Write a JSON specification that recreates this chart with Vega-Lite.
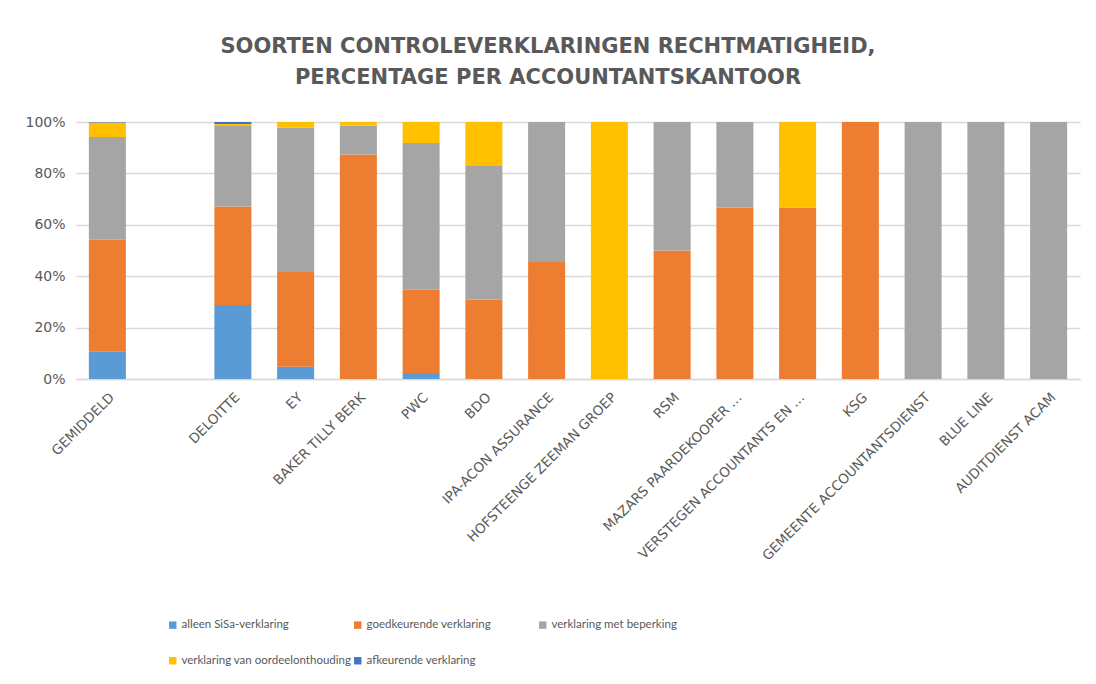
{
  "$schema": "https://vega.github.io/schema/vega-lite/v6.json",
  "width": 1004,
  "height": 257,
  "autosize": {"type": "none"},
  "padding": {"left": 76, "top": 122, "right": 16, "bottom": 305},
  "background": "white",
  "title": {
    "text": ["SOORTEN CONTROLEVERKLARINGEN  RECHTMATIGHEID,", "PERCENTAGE PER ACCOUNTANTSKANTOOR"],
    "font": "DejaVu Sans",
    "fontSize": 21,
    "fontWeight": "bold",
    "color": "#595959",
    "anchor": "middle",
    "dx": -30,
    "offset": 27,
    "lineHeight": 31
  },
  "config": {"view": {"stroke": null}},
  "data": {
    "values": [
      {"kantoor": "GEMIDDELD", "soort": "alleen SiSa-verklaring", "aandeel": 0.108},
      {"kantoor": "GEMIDDELD", "soort": "goedkeurende verklaring", "aandeel": 0.434},
      {"kantoor": "GEMIDDELD", "soort": "verklaring met beperking", "aandeel": 0.400},
      {"kantoor": "GEMIDDELD", "soort": "verklaring van oordeelonthouding", "aandeel": 0.056},
      {"kantoor": "GEMIDDELD", "soort": "afkeurende verklaring", "aandeel": 0.002},
      {"kantoor": "DELOITTE", "soort": "alleen SiSa-verklaring", "aandeel": 0.288},
      {"kantoor": "DELOITTE", "soort": "goedkeurende verklaring", "aandeel": 0.383},
      {"kantoor": "DELOITTE", "soort": "verklaring met beperking", "aandeel": 0.313},
      {"kantoor": "DELOITTE", "soort": "verklaring van oordeelonthouding", "aandeel": 0.008},
      {"kantoor": "DELOITTE", "soort": "afkeurende verklaring", "aandeel": 0.008},
      {"kantoor": "EY", "soort": "alleen SiSa-verklaring", "aandeel": 0.048},
      {"kantoor": "EY", "soort": "goedkeurende verklaring", "aandeel": 0.368},
      {"kantoor": "EY", "soort": "verklaring met beperking", "aandeel": 0.562},
      {"kantoor": "EY", "soort": "verklaring van oordeelonthouding", "aandeel": 0.022},
      {"kantoor": "BAKER TILLY BERK", "soort": "goedkeurende verklaring", "aandeel": 0.874},
      {"kantoor": "BAKER TILLY BERK", "soort": "verklaring met beperking", "aandeel": 0.112},
      {"kantoor": "BAKER TILLY BERK", "soort": "verklaring van oordeelonthouding", "aandeel": 0.014},
      {"kantoor": "PWC", "soort": "alleen SiSa-verklaring", "aandeel": 0.023},
      {"kantoor": "PWC", "soort": "goedkeurende verklaring", "aandeel": 0.324},
      {"kantoor": "PWC", "soort": "verklaring met beperking", "aandeel": 0.571},
      {"kantoor": "PWC", "soort": "verklaring van oordeelonthouding", "aandeel": 0.082},
      {"kantoor": "BDO", "soort": "goedkeurende verklaring", "aandeel": 0.309},
      {"kantoor": "BDO", "soort": "verklaring met beperking", "aandeel": 0.520},
      {"kantoor": "BDO", "soort": "verklaring van oordeelonthouding", "aandeel": 0.171},
      {"kantoor": "IPA-ACON ASSURANCE", "soort": "goedkeurende verklaring", "aandeel": 0.455},
      {"kantoor": "IPA-ACON ASSURANCE", "soort": "verklaring met beperking", "aandeel": 0.545},
      {"kantoor": "HOFSTEENGE ZEEMAN GROEP", "soort": "verklaring van oordeelonthouding", "aandeel": 1.0},
      {"kantoor": "RSM", "soort": "goedkeurende verklaring", "aandeel": 0.5},
      {"kantoor": "RSM", "soort": "verklaring met beperking", "aandeel": 0.5},
      {"kantoor": "MAZARS PAARDEKOOPER …", "soort": "goedkeurende verklaring", "aandeel": 0.667},
      {"kantoor": "MAZARS PAARDEKOOPER …", "soort": "verklaring met beperking", "aandeel": 0.333},
      {"kantoor": "VERSTEGEN ACCOUNTANTS EN …", "soort": "goedkeurende verklaring", "aandeel": 0.667},
      {"kantoor": "VERSTEGEN ACCOUNTANTS EN …", "soort": "verklaring van oordeelonthouding", "aandeel": 0.333},
      {"kantoor": "KSG", "soort": "goedkeurende verklaring", "aandeel": 1.0},
      {"kantoor": "GEMEENTE ACCOUNTANTSDIENST", "soort": "verklaring met beperking", "aandeel": 1.0},
      {"kantoor": "BLUE LINE", "soort": "verklaring met beperking", "aandeel": 1.0},
      {"kantoor": "AUDITDIENST ACAM", "soort": "verklaring met beperking", "aandeel": 1.0}
    ]
  },
  "transform": [
    {"calculate": "indexof(['alleen SiSa-verklaring', 'goedkeurende verklaring', 'verklaring met beperking', 'verklaring van oordeelonthouding', 'afkeurende verklaring'], datum.soort)", "as": "volgorde"}
  ],
  "mark": {"type": "bar"},
  "encoding": {
    "x": {
      "field": "kantoor",
      "type": "nominal",
      "sort": null,
      "scale": {
        "domain": ["GEMIDDELD", " ", "DELOITTE", "EY", "BAKER TILLY BERK", "PWC", "BDO", "IPA-ACON ASSURANCE", "HOFSTEENGE ZEEMAN GROEP", "RSM", "MAZARS PAARDEKOOPER …", "VERSTEGEN ACCOUNTANTS EN …", "KSG", "GEMEENTE ACCOUNTANTSDIENST", "BLUE LINE", "AUDITDIENST ACAM"],
        "paddingInner": 0.41,
        "paddingOuter": 0.205
      },
      "axis": {
        "title": null,
        "labelAngle": -45,
        "labelAlign": "right",
        "labelBaseline": "top",
        "ticks": false,
        "domainColor": "#D9D9D9",
        "domainWidth": 1.3,
        "labelFont": "DejaVu Sans",
        "labelFontSize": 13.5,
        "labelColor": "#595959",
        "labelPadding": 11,
        "labelLimit": 400
      }
    },
    "y": {
      "field": "aandeel",
      "type": "quantitative",
      "stack": "zero",
      "scale": {"domain": [0, 1]},
      "axis": {
        "title": null,
        "format": ".0%",
        "values": [0, 0.2, 0.4, 0.6, 0.8, 1],
        "domain": false,
        "ticks": false,
        "gridColor": "#D9D9D9",
        "gridWidth": 1.3,
        "labelFont": "DejaVu Sans",
        "labelFontSize": 14,
        "labelColor": "#595959",
        "labelPadding": 11
      }
    },
    "order": {"field": "volgorde", "type": "quantitative", "sort": "ascending"},
    "color": {
      "field": "soort",
      "type": "nominal",
      "sort": ["alleen SiSa-verklaring", "goedkeurende verklaring", "verklaring met beperking", "verklaring van oordeelonthouding", "afkeurende verklaring"],
      "scale": {
        "domain": ["alleen SiSa-verklaring", "goedkeurende verklaring", "verklaring met beperking", "verklaring van oordeelonthouding", "afkeurende verklaring"],
        "range": ["#5B9BD5", "#ED7D31", "#A5A5A5", "#FFC000", "#4472C4"]
      },
      "legend": {
        "title": null,
        "orient": "none",
        "legendX": 91,
        "legendY": 497,
        "direction": "horizontal",
        "columns": 3,
        "gridAlign": "all",
        "symbolType": "square",
        "symbolSize": 55,
        "symbolStrokeWidth": 0,
        "labelFont": "Lato",
        "labelFontSize": 11.5,
        "labelColor": "#595959",
        "labelOffset": 3,
        "labelLimit": 300,
        "rowPadding": 23,
        "columnPadding": 0
      }
    }
  }
}
